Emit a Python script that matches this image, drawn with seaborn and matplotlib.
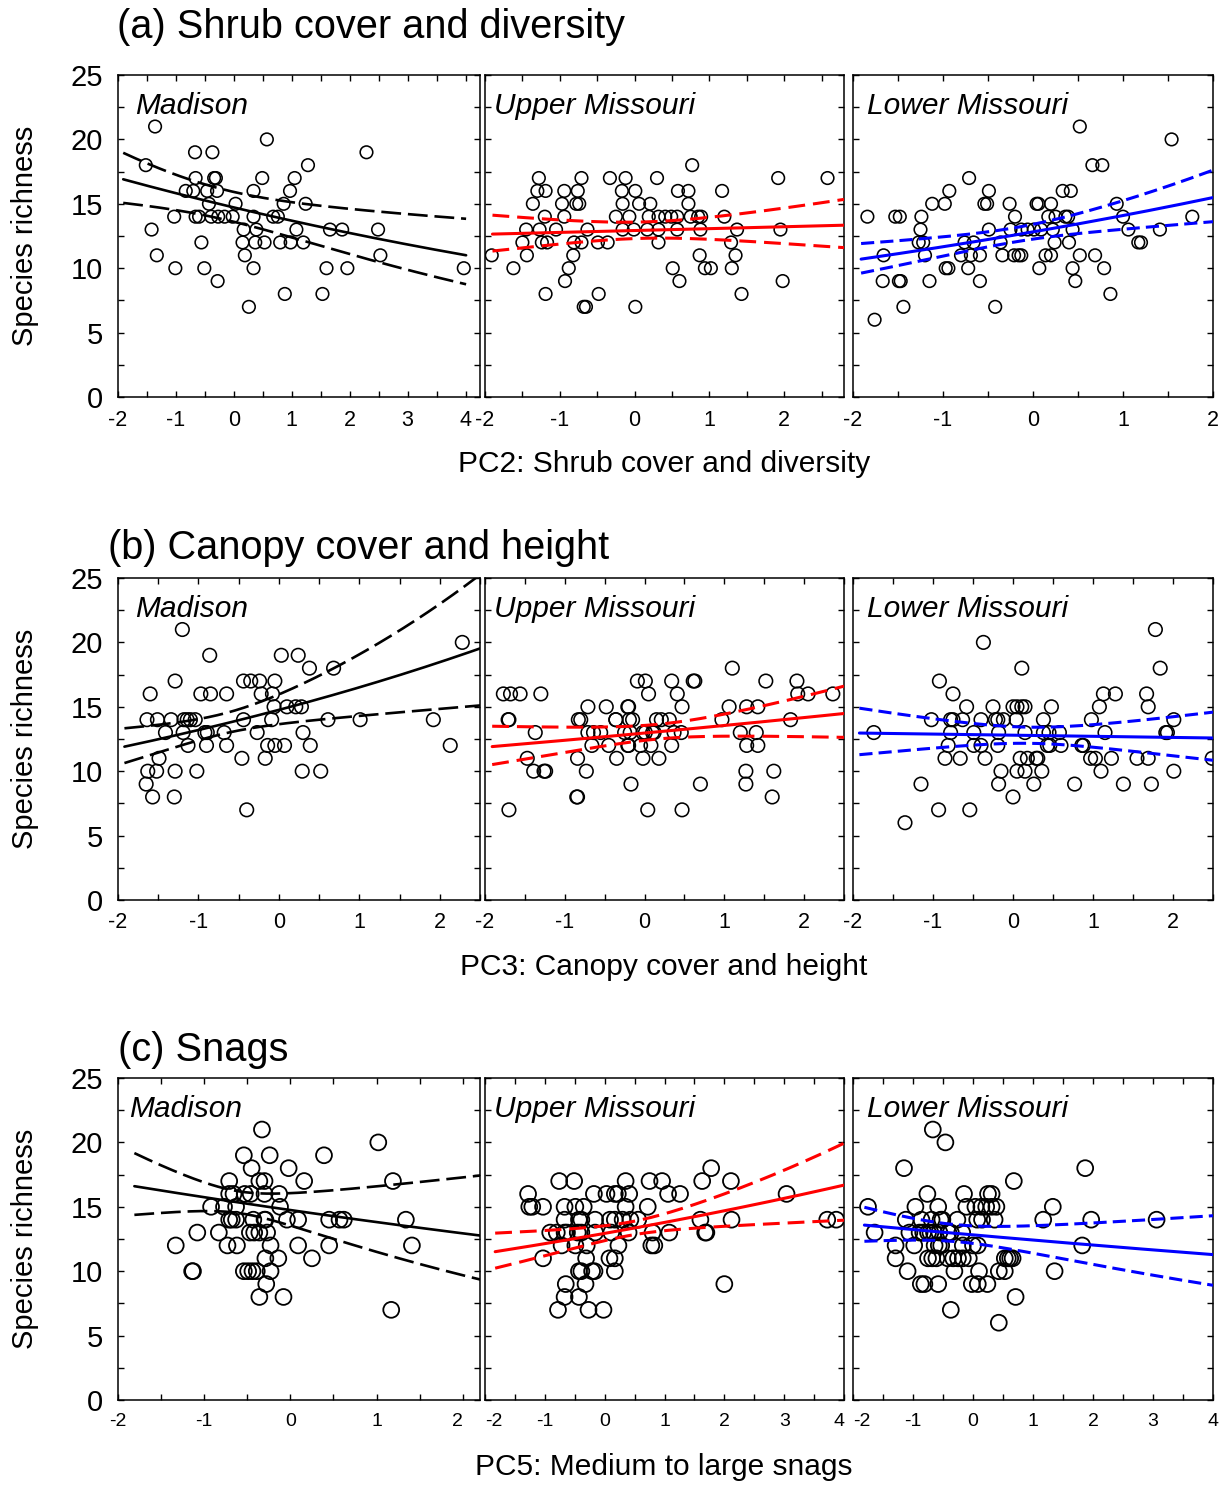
import numpy as np
import pandas as pd
import matplotlib
matplotlib.use("Agg")
import matplotlib.pyplot as plt
from matplotlib.ticker import MultipleLocator
import seaborn as sns

sns.set_style("ticks")
plt.rcParams['font.family'] = ['Liberation Sans', 'DejaVu Sans']
plt.rcParams['axes.unicode_minus'] = False
for key in ("text.color", "axes.labelcolor", "xtick.color", "ytick.color", "axes.edgecolor"):
    plt.rcParams[key] = "black"

# ---------------- data ----------------
REGIONS = ["Madison", "Upper Missouri", "Lower Missouri"]
REGION_COLORS = ["black", "red", "blue"]
ROW_TITLES = ["(a) Shrub cover and diversity", "(b) Canopy cover and height", "(c) Snags"]
ROW_XLABELS = ["PC2: Shrub cover and diversity", "PC3: Canopy cover and height",
               "PC5: Medium to large snags"]
Y_LABEL = "Species richness"

# (a) PC2 shrub cover
A_MAD_X = [-1.36, 0.57, 2.29, -0.67, -0.37, -1.52, 1.28, -0.66, -0.34, -0.31, 0.49, 1.05,
           -0.83, -0.70, -0.46, -0.29, 0.34, 0.97, -0.43, 0.03, 0.86, 1.24,
           -1.03, -0.66, -0.60, -0.39, -0.27, -0.16, -0.02, 0.34, 0.68, 0.76,
           -1.42, 0.17, 0.39, 1.08, 1.66, 1.87, 2.49, -0.56, 0.15, 0.37, 0.53, 0.80, 0.98, 1.20,
           -1.33, 0.19, 2.53, -1.01, -0.51, 0.34, 1.60, 1.96, 3.97, -0.28, 0.88, 1.53, 0.26]
A_MAD_Y = [21, 20, 19, 19, 19, 18, 18, 17, 17, 17, 17, 17,
           16, 16, 16, 16, 16, 16, 15, 15, 15, 15,
           14, 14, 14, 14, 14, 14, 14, 14, 14, 14,
           13, 13, 13, 13, 13, 13, 13, 12, 12, 12, 12, 12, 12, 12,
           11, 11, 11, 10, 10, 10, 10, 10, 10, 9, 8, 8, 7]

A_UPP_X = [0.77, -1.28, -0.71, -0.33, -0.12, 0.30, 1.92, 2.58,
           -1.30, -1.19, -0.94, -0.76, -0.17, 0.01, 0.58, 0.72, 1.17,
           -1.36, -0.97, -0.78, -0.74, -0.16, 0.06, 0.21, 0.72,
           -1.20, -0.94, -0.25, -0.07, 0.19, 0.32, 0.41, 0.49, 0.57, 0.75, 0.85, 0.89, 1.20,
           -1.45, -1.27, -1.05, -0.63, -0.16, -0.01, 0.17, 0.32, 0.57, 0.88, 1.37, 1.95,
           -1.50, -1.24, -1.17, -0.81, -0.71, -0.49, -0.36, 0.32, 1.29,
           -1.91, -1.44, -0.82, 0.87, 1.35, -1.62, -0.88, 0.51, 0.94, 1.02, 1.30,
           -0.93, 0.60, 1.98, -1.19, -0.48, 1.43, -0.68, -0.65, 0.01]
A_UPP_Y = [18, 17, 17, 17, 17, 17, 17, 17,
           16, 16, 16, 16, 16, 16, 16, 16, 16,
           15, 15, 15, 15, 15, 15, 15, 15,
           14, 14, 14, 14, 14, 14, 14, 14, 14, 14, 14, 14, 14,
           13, 13, 13, 13, 13, 13, 13, 13, 13, 13, 13, 13,
           12, 12, 12, 12, 12, 12, 12, 12, 12,
           11, 11, 11, 11, 11, 10, 10, 10, 10, 10, 10,
           9, 9, 9, 8, 8, 8, 7, 7, 7]

A_LOW_X = [0.52, 1.54, 0.66, 0.77, -0.71, -0.93, -0.49, 0.33, 0.42,
           -1.12, -0.98, -0.54, -0.51, -0.26, 0.04, 0.06, 0.20, 0.93,
           -1.84, -1.53, -1.48, -1.24, -0.20, 0.17, 0.25, 0.36, 0.39, 1.00, 1.77,
           -1.25, -0.49, -0.25, -0.13, -0.06, 0.01, 0.09, 0.22, 0.44, 1.06, 1.41,
           -1.27, -1.22, -0.76, -0.66, -0.36, 0.24, 0.40, 1.17, 1.20,
           -1.66, -1.20, -0.80, -0.69, -0.59, -0.34, -0.21, -0.16, -0.13, 0.14, 0.20, 0.52, 0.69,
           -0.97, -0.94, -0.72, 0.07, 0.44, 0.79,
           -1.67, -1.49, -1.47, -1.15, -0.59, 0.47, 0.86, -1.44, -0.42, -1.76]
A_LOW_Y = [21, 20, 18, 18, 17, 16, 16, 16, 16,
           15, 15, 15, 15, 15, 15, 15, 15, 15,
           14, 14, 14, 14, 14, 14, 14, 14, 14, 14, 14,
           13, 13, 13, 13, 13, 13, 13, 13, 13, 13, 13,
           12, 12, 12, 12, 12, 12, 12, 12, 12,
           11, 11, 11, 11, 11, 11, 11, 11, 11, 11, 11, 11, 11,
           10, 10, 10, 10, 10, 10,
           9, 9, 9, 9, 9, 9, 8, 7, 7, 6]

# (b) PC3 canopy cover
B_MAD_X = [-1.20, 2.28, -0.86, 0.03, 0.24, 0.38, 0.68,
           -1.29, -0.44, -0.35, -0.24, -0.05,
           -1.60, -0.97, -0.85, -0.65, -0.22, -0.08,
           -0.06, 0.10, 0.21, 0.28,
           -1.64, -1.51, -1.34, -1.18, -1.14, -1.10, -1.04, -0.44, -0.09, 0.61, 1.01, 1.92,
           -1.41, -1.19, -0.92, -0.89, -0.68, -0.27, 0.30,
           -1.13, -0.90, -0.65, -0.14, -0.05, 0.07, 0.39, 2.13,
           -1.49, -0.46, -0.17, -1.63, -1.52, -1.29, -1.02, 0.29, 0.52,
           -1.65, -1.57, -1.30, -0.40]
B_MAD_Y = [21, 20, 19, 19, 19, 18, 18,
           17, 17, 17, 17, 17,
           16, 16, 16, 16, 16, 16,
           15, 15, 15, 15,
           14, 14, 14, 14, 14, 14, 14, 14, 14, 14, 14, 14,
           13, 13, 13, 13, 13, 13, 13,
           12, 12, 12, 12, 12, 12, 12, 12,
           11, 11, 11, 10, 10, 10, 10, 10, 10,
           9, 8, 8, 7]

B_UPP_X = [1.10, -0.09, 0.01, 0.34, 0.61, 0.63, 1.52, 1.91,
           -1.77, -1.68, -1.56, -1.30, 0.05, 0.41, 1.92, 2.05, 2.36,
           -0.71, -0.48, -0.21, -0.20, 0.47, 1.06, 1.28, 1.42,
           -1.71, -1.70, -0.83, -0.80, -0.36, -0.36, -0.19, -0.15, 0.15, 0.21, 0.31, 0.97, 1.83,
           -1.37, -0.71, -0.64, -0.55, -0.25, -0.18, -0.02, 0.01, 0.10, 0.12, 0.37, 0.46, 1.20, 1.40,
           -0.66, -0.45, -0.21, -0.20, -0.05, 0.08, 0.34, 1.28, 1.42,
           -1.47, -0.84, -0.35, -0.02, 0.18,
           -1.39, -1.26, -1.24, -0.73, 1.27, 1.62,
           -0.17, 0.70, 1.27, -0.85, -0.84, 1.60, -1.70, 0.04, 0.47]
B_UPP_Y = [18, 17, 17, 17, 17, 17, 17, 17,
           16, 16, 16, 16, 16, 16, 16, 16, 16,
           15, 15, 15, 15, 15, 15, 15, 15,
           14, 14, 14, 14, 14, 14, 14, 14, 14, 14, 14, 14, 14,
           13, 13, 13, 13, 13, 13, 13, 13, 13, 13, 13, 13, 13, 13,
           12, 12, 12, 12, 12, 12, 12, 12, 12,
           11, 11, 11, 11, 11,
           10, 10, 10, 10, 10, 10,
           9, 9, 9, 8, 8, 8, 7, 7, 7]

B_LOW_X = [1.78, -0.37, 0.11, 1.84, -0.92, -0.75, 1.13, 1.28, 1.67,
           -0.58, -0.25, 0.00, 0.05, 0.11, 0.15, 0.48, 1.08, 1.69,
           -1.02, -0.78, -0.75, -0.63, -0.40, -0.22, -0.19, -0.12, 0.04, 0.38, 0.98, 2.01,
           -1.74, -0.78, -0.49, -0.18, 0.15, 0.38, 0.45, 0.58, 1.15, 1.91, 1.93,
           -0.81, -0.49, -0.40, -0.19, 0.43, 0.46, 0.60, 0.86, 0.88,
           -0.85, -0.66, -0.35, 0.09, 0.18, 0.29, 0.31, 0.97, 1.03, 1.23, 1.55, 1.69, 2.49,
           -0.15, 0.05, 0.15, 0.36, 1.10, 2.01,
           -1.15, -0.18, 0.26, 0.77, 1.38, 1.73, 0.00, -0.93, -0.54, -1.35]
B_LOW_Y = [21, 20, 18, 18, 17, 16, 16, 16, 16,
           15, 15, 15, 15, 15, 15, 15, 15, 15,
           14, 14, 14, 14, 14, 14, 14, 14, 14, 14, 14, 14,
           13, 13, 13, 13, 13, 13, 13, 13, 13, 13, 13,
           12, 12, 12, 12, 12, 12, 12, 12, 12,
           11, 11, 11, 11, 11, 11, 11, 11, 11, 11, 11, 11, 11,
           10, 10, 10, 10, 10, 10,
           9, 9, 9, 9, 9, 9, 8, 7, 7, 6]

# (c) PC5 snags
C_MAD_X = [-0.33, 1.02, -0.54, -0.24, 0.39, -0.45, -0.02,
           -0.71, -0.36, -0.30, 0.16, 1.19,
           -0.71, -0.66, -0.53, -0.46, -0.30, -0.13,
           -0.92, -0.77, -0.63, -0.12,
           -0.71, -0.68, -0.63, -0.43, -0.30, -0.29, -0.04, 0.09, 0.45, 0.57, 0.62, 1.34,
           -1.08, -0.83, -0.47, -0.42, -0.36, -0.27,
           -1.33, -0.73, -0.62, -0.23, 0.09, 0.45, 1.41,
           -0.29, -0.14, 0.25,
           -1.14, -1.13, -0.54, -0.49, -0.44, -0.39, -0.23,
           -0.28, -0.36, -0.08, 1.17]
C_MAD_Y = [21, 20, 19, 19, 19, 18, 18,
           17, 17, 17, 17, 17,
           16, 16, 16, 16, 16, 16,
           15, 15, 15, 15,
           14, 14, 14, 14, 14, 14, 14, 14, 14, 14, 14, 14,
           13, 13, 13, 13, 13, 13,
           12, 12, 12, 12, 12, 12, 12,
           11, 11, 11,
           10, 10, 10, 10, 10, 10, 10,
           9, 8, 8, 7]

C_UPP_X = [1.78, -0.76, -0.51, 0.35, 0.75, 0.96, 1.63, 2.11,
           -1.28, -0.18, 0.03, 0.17, 0.22, 0.41, 1.06, 1.26, 3.04,
           -1.26, -1.21, -1.03, -0.67, -0.49, -0.35, 0.35, 0.72,
           -0.67, -0.43, -0.39, -0.16, 0.09, 0.17, 0.30, 0.43, 0.56, 1.60, 2.12, 3.72, 3.87,
           -0.91, -0.80, -0.67, -0.63, -0.45, -0.39, -0.16, 0.11, 0.40, 0.80, 1.08, 1.68, 1.70,
           -0.72, -0.49, -0.30, 0.23, 0.78, 0.83,
           -1.03, -0.31, 0.08, 0.17,
           -0.43, -0.39, -0.21, -0.17, 0.17,
           -0.65, -0.32, 2.00, -0.67, -0.43, -0.78, -0.27, -0.02]
C_UPP_Y = [18, 17, 17, 17, 17, 17, 17, 17,
           16, 16, 16, 16, 16, 16, 16, 16, 16,
           15, 15, 15, 15, 15, 15, 15, 15,
           14, 14, 14, 14, 14, 14, 14, 14, 14, 14, 14, 14, 14,
           13, 13, 13, 13, 13, 13, 13, 13, 13, 13, 13, 13, 13,
           12, 12, 12, 12, 12, 12,
           11, 11, 11, 11,
           10, 10, 10, 10, 10,
           9, 9, 9, 8, 8, 7, 7, 7]

C_LOW_X = [-0.67, -0.46, -1.15, 1.87, 0.68, -0.76, -0.15, 0.25, 0.31,
           -1.75, -0.96, -0.58, -0.11, 0.04, 0.14, 0.22, 0.31, 0.39, 1.33,
           -1.12, -0.86, -0.69, -0.54, -0.51, -0.26, 0.07, 0.15, 0.36, 1.17, 1.97, 3.06,
           -1.64, -1.06, -0.89, -0.83, -0.75, -0.71, -0.65, -0.56, -0.41, -0.37, -0.18,
           -1.29, -0.98, -0.64, -0.57, -0.53, -0.17, 0.00, 0.08, 1.82,
           -1.29, -0.75, -0.68, -0.61, -0.42, -0.33, -0.25, -0.17, -0.07, 0.53, 0.58, 0.62, 0.66,
           -1.09, -0.31, 0.10, 0.43, 0.53, 1.36,
           -0.87, -0.81, -0.58, -0.02, 0.08, 0.24, 0.71, -0.37, 0.43]
C_LOW_Y = [21, 20, 18, 18, 17, 16, 16, 16, 16,
           15, 15, 15, 15, 15, 15, 15, 15, 15, 15,
           14, 14, 14, 14, 14, 14, 14, 14, 14, 14, 14, 14,
           13, 13, 13, 13, 13, 13, 13, 13, 13, 13, 13,
           12, 12, 12, 12, 12, 12, 12, 12, 12,
           11, 11, 11, 11, 11, 11, 11, 11, 11, 11, 11, 11, 11,
           10, 10, 10, 10, 10, 10,
           9, 9, 9, 9, 9, 9, 8, 7, 6]

# Poisson-type fits (log link): mean = exp(B0 + B1*x); 95% band half-width on log scale
FIT_B0 = [[2.689, 2.559, 2.551], [2.692, 2.562, 2.549], [2.691, 2.560, 2.551]]
FIT_B1 = [[-0.0725, 0.0113, 0.0944], [0.112, 0.0443, -0.0068], [-0.0654, 0.0636, -0.0318]]
CI_XC = [[-0.24, 0.115, -0.165], [-0.68, 0.18, 0.21], [-0.595, 0.445, -0.28]]
CI_H0 = [[0.0776, 0.049, 0.0438], [0.057, 0.0436, 0.049], [0.055, 0.039, 0.0507]]
CI_H1 = [[0.0507, 0.0488, 0.056], [0.0788, 0.0559, 0.061], [0.1095, 0.0489, 0.0541]]
FIT_XMIN = [[-1.91, -1.90, -1.91], [-1.92, -1.91, -1.92], [-1.81, -1.83, -1.81]]
FIT_XMAX = [[4.01, 2.80, 2.00], [2.50, 2.50, 2.50], [2.21, 4.00, 4.00]]
X_LIMITS = [[(-2, 4.25), (-2, 2.8), (-2, 2)],
            [(-2, 2.5), (-2, 2.5), (-2, 2.5)],
            [(-2, 2.2), (-2, 4), (-2, 4)]]

PANEL_X = [[A_MAD_X, A_UPP_X, A_LOW_X], [B_MAD_X, B_UPP_X, B_LOW_X], [C_MAD_X, C_UPP_X, C_LOW_X]]
PANEL_Y = [[A_MAD_Y, A_UPP_Y, A_LOW_Y], [B_MAD_Y, B_UPP_Y, B_LOW_Y], [C_MAD_Y, C_UPP_Y, C_LOW_Y]]

# ---------------- layout ----------------
W, H = 1225, 1492
fig = plt.figure(figsize=(W / 100, H / 100), dpi=100)
ROW_PX = [(75, 397), (578, 900), (1078, 1400)]
COL_PX = [(118, 480), (485, 844), (853, 1213)]
MARKER_S = [82, 95, 130]
MARKER_LW = [1.15, 1.15, 1.3]
XTICK_SIZE = [15.5, 15.5, 14]
LABEL_X = [[0.047, 0.025, 0.039], [0.047, 0.025, 0.039], [0.030, 0.025, 0.039]]
TITLE_POS = [(117, 38), (108, 559), (118, 1061)]
XLABEL_BASE = [472, 975, 1475]
DASHES = {"black": (7.5, 2.6), "red": (5.5, 2.6), "blue": (4.3, 2.0)}
LW = {"black": 1.9, "red": 2.2, "blue": 2.2}

axes = {}
for r in range(3):
    t, b = ROW_PX[r]
    for c in range(3):
        l, rr = COL_PX[c]
        ax = fig.add_axes([l / W, 1 - b / H, (rr - l) / W, (b - t) / H])
        axes[(r, c)] = ax
        col = REGION_COLORS[c]
        df = pd.DataFrame({"x": PANEL_X[r][c], "y": PANEL_Y[r][c]})
        sns.scatterplot(data=df, x="x", y="y", ax=ax, marker="o", s=MARKER_S[r],
                        facecolors="none", edgecolor="black", linewidth=MARKER_LW[r],
                        zorder=3)
        xs = np.linspace(FIT_XMIN[r][c], FIT_XMAX[r][c], 200)
        eta = FIT_B0[r][c] + FIT_B1[r][c] * xs
        hw = np.sqrt(CI_H0[r][c] ** 2 + (CI_H1[r][c] * (xs - CI_XC[r][c])) ** 2)
        fit = pd.DataFrame({"x": xs, "mean": np.exp(eta),
                            "lo": np.exp(eta - hw), "hi": np.exp(eta + hw)})
        sns.lineplot(data=fit, x="x", y="mean", ax=ax, color=col, linewidth=LW[col],
                     errorbar=None, zorder=4)
        for key in ("lo", "hi"):
            sns.lineplot(data=fit, x="x", y=key, ax=ax, color=col, linewidth=LW[col],
                         linestyle=(0, DASHES[col]), errorbar=None, zorder=4)
        ax.set_xlim(*X_LIMITS[r][c])
        ax.set_ylim(0, 25)
        ax.xaxis.set_major_locator(MultipleLocator(1))
        ax.xaxis.set_minor_locator(MultipleLocator(0.5))
        ax.yaxis.set_major_locator(MultipleLocator(5))
        ax.yaxis.set_minor_locator(MultipleLocator(2.5))
        ax.tick_params(which="both", direction="in", top=True, right=True,
                       length=4, width=1, color="black")
        ax.tick_params(axis="x", labelsize=XTICK_SIZE[r], pad=9, labelcolor="black")
        ax.tick_params(axis="y", labelsize=21, pad=11, labelcolor="black")
        if c > 0:
            ax.tick_params(axis="y", labelleft=False)
        for sp in ax.spines.values():
            sp.set_visible(True)
            sp.set_linewidth(1.1)
            sp.set_color("black")
        ax.set_xlabel("")
        ax.set_ylabel("")
        ax.text(LABEL_X[r][c], 0.878, REGIONS[c], transform=ax.transAxes,
                fontsize=21.5, fontstyle="italic", va="baseline", ha="left", color="black")
    # row texts
    fig.text(TITLE_POS[r][0] / W, 1 - TITLE_POS[r][1] / H, ROW_TITLES[r],
             fontsize=28.6, ha="left", va="baseline", color="black")
    fig.text(664 / W, 1 - XLABEL_BASE[r] / H, ROW_XLABELS[r],
             fontsize=21.5, ha="center", va="baseline", color="black")
    fig.text(25 / W, 1 - ((t + b) / 2) / H, Y_LABEL, fontsize=21,
             rotation=90, ha="center", va="center", color="black")

# keep the touching edge labels of the bottom row ("4" | "-2") from colliding
fig.canvas.draw()
for c in range(3):
    ax = axes[(2, c)]
    lo, hi = ax.get_xlim()
    for tick in ax.xaxis.get_major_ticks():
        v = tick.get_loc()
        if c < 2 and abs(v - hi) < 0.3:
            tick.label1.set_horizontalalignment("right")
        if c > 0 and abs(v - lo) < 0.01:
            tick.label1.set_horizontalalignment("left")

fig.savefig("out.png", dpi=100)
